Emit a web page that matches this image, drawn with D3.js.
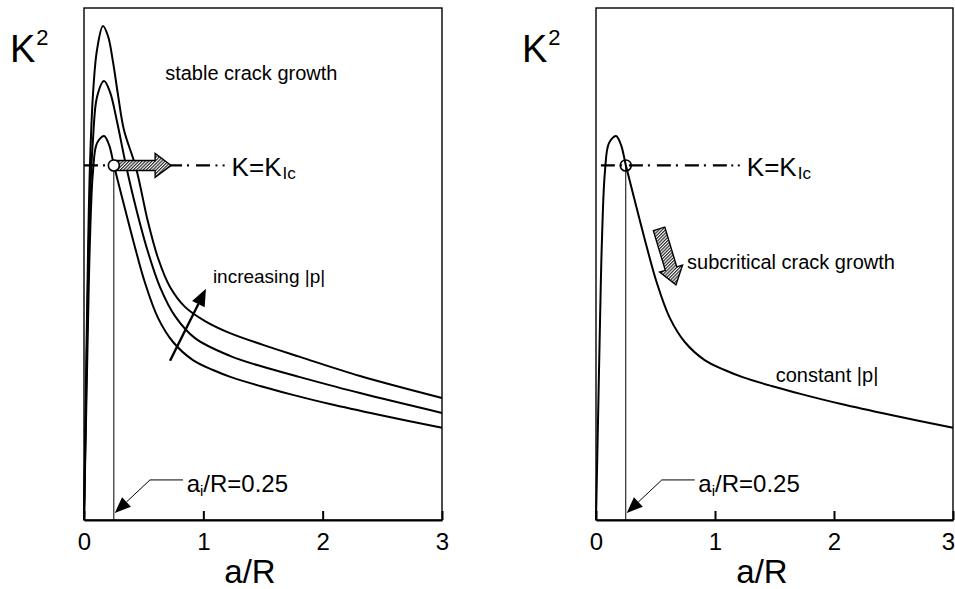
<!DOCTYPE html>
<html>
<head>
<meta charset="utf-8">
<script src="https://cdn.jsdelivr.net/npm/d3@7"></script>
<style>
  body { margin: 0; background: #fff; }
  svg text { font-family: "Liberation Sans", Arial, Helvetica, sans-serif; fill: #000; }
</style>
</head>
<body>
<svg id="chart" width="955" height="589"></svg>
<script>
// a/R tick values
const xTickValues = [0, 1, 2, 3];

// K^2 (normalised by K_Ic^2) versus a/R, three pressure levels
const curveLow = [
  [0, 0], [0.017, 0.282], [0.034, 0.564], [0.050, 0.790], [0.075, 0.982],
  [0.109, 1.063], [0.168, 1.083], [0.210, 1.058], [0.251, 1.000], [0.318, 0.911],
  [0.411, 0.790], [0.511, 0.669], [0.620, 0.570], [0.746, 0.502], [0.913, 0.451],
  [1.081, 0.423], [1.232, 0.403], [1.475, 0.378], [1.726, 0.355], [2.061, 0.327],
  [2.480, 0.296], [3.0, 0.260]
];
const curveMid = [
  [0, 0], [0.017, 0.338], [0.034, 0.677], [0.050, 0.903], [0.075, 1.072],
  [0.109, 1.193], [0.168, 1.238], [0.218, 1.207], [0.277, 1.123], [0.352, 1.000],
  [0.444, 0.869], [0.536, 0.756], [0.637, 0.657], [0.763, 0.575], [0.930, 0.513],
  [1.223, 0.463], [1.500, 0.432], [1.810, 0.403], [2.313, 0.358], [3.0, 0.302]
];
const curveHigh = [
  [0, 0], [0.017, 0.395], [0.034, 0.762], [0.050, 1.001], [0.075, 1.199],
  [0.109, 1.326], [0.159, 1.393], [0.201, 1.365], [0.243, 1.292], [0.285, 1.199],
  [0.335, 1.100], [0.436, 0.993], [0.536, 0.841], [0.620, 0.739], [0.721, 0.657],
  [0.846, 0.601], [1.014, 0.561], [1.223, 0.527], [1.500, 0.494], [1.810, 0.460],
  [2.313, 0.406], [3.0, 0.344]
];

const kIc = 1;        // critical level K = K_Ic
const aInit = 0.25;   // initial crack length a_i/R
const kMax = 1.444;   // top of the plotting frame

const svg = d3.select("#chart");

// diagonal hatch used by the wide arrows
const defs = svg.append("defs");
const pat = defs.append("pattern")
  .attr("id", "hatch").attr("patternUnits", "userSpaceOnUse")
  .attr("width", 2.3).attr("height", 2.3)
  .attr("patternTransform", "rotate(45)");
pat.append("rect").attr("width", 2.3).attr("height", 2.3).attr("fill", "#fff");
pat.append("line").attr("x1", 0.6).attr("y1", 0).attr("x2", 0.6).attr("y2", 2.3)
  .attr("stroke", "#1a1a1a").attr("stroke-width", 1.1);

const panels = [
  {
    left: 84, right: 442, curves: [curveLow, curveMid, curveHigh],
    circleFill: "#fff",
    kcEnd: 1.056, kcDots: [1.11, 1.17]
  },
  {
    left: 596, right: 953, curves: [curveLow],
    circleFill: "none",
    kcEnd: 1.10, kcDots: [1.145, 1.20]
  }
];

function headPoints(tip, from, len, halfW) {
  const dx = tip[0] - from[0], dy = tip[1] - from[1];
  const L = Math.hypot(dx, dy), ux = dx / L, uy = dy / L;
  const nx = -uy, ny = ux;
  const bx = tip[0] - ux * len, by = tip[1] - uy * len;
  return [[tip[0], tip[1]], [bx + nx * halfW, by + ny * halfW], [bx - nx * halfW, by - ny * halfW]];
}

function blockArrow(tail, tip, bodyHalf, headHalf, headLen) {
  const dx = tip[0] - tail[0], dy = tip[1] - tail[1];
  const L = Math.hypot(dx, dy), ux = dx / L, uy = dy / L;
  const nx = -uy, ny = ux;
  const hx = tip[0] - ux * headLen, hy = tip[1] - uy * headLen;
  return [
    [tail[0] + nx * bodyHalf, tail[1] + ny * bodyHalf],
    [hx + nx * bodyHalf, hy + ny * bodyHalf],
    [hx + nx * headHalf, hy + ny * headHalf],
    [tip[0], tip[1]],
    [hx - nx * headHalf, hy - ny * headHalf],
    [hx - nx * bodyHalf, hy - ny * bodyHalf],
    [tail[0] - nx * bodyHalf, tail[1] - ny * bodyHalf]
  ];
}

const poly = pts => pts.map(p => p.join(",")).join(" ");

panels.forEach((p, idx) => {
  const x = d3.scaleLinear().domain([0, 3]).range([p.left, p.right]);
  const y = d3.scaleLinear().domain([0, kMax]).range([520, 8]);
  const g = svg.append("g");

  // frame
  g.append("rect")
    .attr("x", p.left).attr("y", y(kMax))
    .attr("width", p.right - p.left).attr("height", y(0) - y(kMax))
    .attr("fill", "none").attr("stroke", "#000").attr("stroke-width", 1.4);

  // bottom axis with inward ticks
  const axis = d3.axisBottom(x).tickValues(xTickValues).tickFormat(d3.format("d"))
    .tickSizeInner(-9).tickSizeOuter(0).tickPadding(13);
  const ax = g.append("g").attr("transform", `translate(0,${y(0)})`).call(axis);
  ax.select(".domain").attr("stroke", "#000").attr("stroke-width", 2);
  ax.selectAll(".tick line").attr("stroke", "#000").attr("stroke-width", 2);
  ax.selectAll(".tick text")
    .attr("font-size", 24)
    .attr("font-family", "'Liberation Sans', Arial, sans-serif")
    .attr("fill", "#000");
  // keep the last label inside the page edge
  ax.selectAll(".tick text").filter(d => x(d) + 7 > 955)
    .attr("text-anchor", "end").attr("x", 955 - x(3) - 0.5);

  // axis titles
  g.append("text").attr("x", p.left + 166).attr("y", 583)
    .attr("text-anchor", "middle").attr("font-size", 33).text("a/R");
  const kt = g.append("text").attr("x", p.left - 74).attr("y", 62).attr("font-size", 38);
  kt.append("tspan").text("K");
  kt.append("tspan").attr("font-size", 22).attr("dy", -17).attr("dx", 1).text("2");

  // K = K_Ic dash-dot line (drawn right to left so it ends on a dash)
  g.append("line")
    .attr("x1", x(p.kcEnd)).attr("x2", x(0))
    .attr("y1", y(kIc)).attr("y2", y(kIc))
    .attr("stroke", "#000").attr("stroke-width", 2.2)
    .attr("stroke-dasharray", "14,7,2,5");
  p.kcDots.forEach(d => {
    g.append("line")
      .attr("x1", x(d) - 1).attr("x2", x(d) + 1)
      .attr("y1", y(kIc)).attr("y2", y(kIc))
      .attr("stroke", "#000").attr("stroke-width", 2);
  });
  const kl = g.append("text").attr("x", x(p.kcDots[1]) + 8).attr("y", y(kIc) + 11).attr("font-size", 26);
  kl.append("tspan").text("K=K");
  kl.append("tspan").attr("font-size", 17).attr("dy", 3).attr("dx", 1).text("Ic");

  // initial crack length marker
  g.append("line")
    .attr("x1", x(aInit)).attr("x2", x(aInit))
    .attr("y1", y(0)).attr("y2", y(kIc))
    .attr("stroke", "#000").attr("stroke-width", 1);

  // curves
  const line = d3.line().x(d => x(d[0])).y(d => y(d[1])).curve(d3.curveCatmullRom.alpha(0.5));
  p.curves.forEach(c => {
    g.append("path").datum(c).attr("d", line)
      .attr("fill", "none").attr("stroke", "#000").attr("stroke-width", 2);
  });

  if (idx === 0) {
    // stable growth: horizontal hatched arrow along K = K_Ic
    g.append("polygon")
      .attr("points", poly(blockArrow([x(aInit), y(kIc)], [x(0.73), y(kIc)], 5, 12, 16)))
      .attr("fill", "url(#hatch)").attr("stroke", "#000").attr("stroke-width", 1.4);
    g.append("text").attr("x", x(0.68)).attr("y", 80).attr("font-size", 20).text("stable crack growth");

    // increasing |p| arrow
    const t0 = [x(0.721), y(0.449)], t1 = [x(1.022), y(0.652)];
    const h = headPoints(t1, t0, 17, 7);
    g.append("line").attr("x1", t0[0]).attr("y1", t0[1])
      .attr("x2", (h[1][0] + h[2][0]) / 2).attr("y2", (h[1][1] + h[2][1]) / 2)
      .attr("stroke", "#000").attr("stroke-width", 2.4);
    g.append("polygon").attr("points", poly(h)).attr("fill", "#000");
    g.append("text").attr("x", x(1.08)).attr("y", 283).attr("font-size", 19).text("increasing |p|");
  } else {
    // subcritical growth: hatched arrow pointing down the curve
    g.append("polygon")
      .attr("points", poly(blockArrow([x(0.53), y(0.821)], [x(0.672), y(0.663)], 6, 12, 17)))
      .attr("fill", "url(#hatch)").attr("stroke", "#000").attr("stroke-width", 1.4);
    g.append("text").attr("x", x(0.765)).attr("y", 269).attr("font-size", 20).text("subcritical crack growth");
    g.append("text").attr("x", x(1.510)).attr("y", 382).attr("font-size", 20).text("constant |p|");
  }

  // intersection of the curve with K = K_Ic at a_i
  g.append("circle").attr("cx", x(aInit)).attr("cy", y(kIc)).attr("r", 5.5)
    .attr("fill", p.circleFill).attr("stroke", "#000").attr("stroke-width", 1.6);

  // a_i/R callout
  const tip = [x(aInit) + 1, y(0.02)];
  const elbow = [x(0.553), y(0.113)];
  const hd = headPoints(tip, elbow, 16, 6.5);
  g.append("polyline")
    .attr("points", poly([[x(0.83), elbow[1]], elbow, [(hd[1][0] + hd[2][0]) / 2, (hd[1][1] + hd[2][1]) / 2]]))
    .attr("fill", "none").attr("stroke", "#000").attr("stroke-width", 1);
  g.append("polygon").attr("points", poly(hd)).attr("fill", "#000");
  const at = g.append("text").attr("x", x(0.86)).attr("y", 492).attr("font-size", 24);
  at.append("tspan").text("a");
  at.append("tspan").attr("font-size", 15).attr("dy", 4).text("i");
  at.append("tspan").attr("dy", -4).text("/R=0.25");
});
</script>
</body>
</html>
